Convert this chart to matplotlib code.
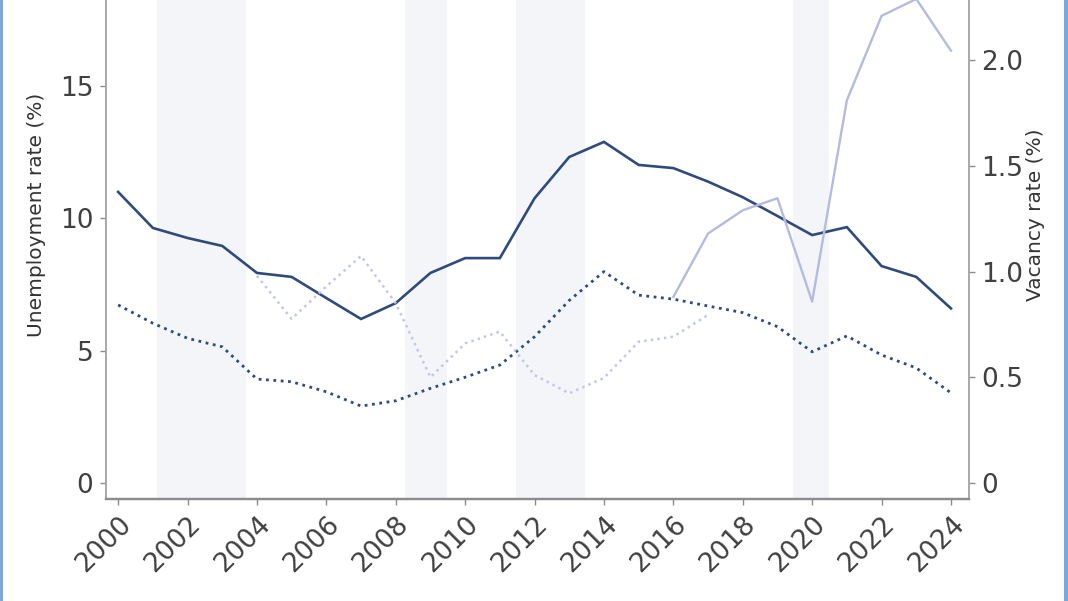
import numpy as np
import matplotlib
matplotlib.use("Agg")
import matplotlib.pyplot as plt
from matplotlib.patches import Rectangle

years = list(range(2000, 2025))

# unemployment rate, main measure (left axis)
unemp = [11.0, 9.64, 9.26, 8.96, 7.94, 7.79, 6.99, 6.2, 6.8, 7.94, 8.5, 8.5, 10.76,
         12.32, 12.89, 12.02, 11.9, 11.39, 10.8, 10.09, 9.37, 9.67, 8.2, 7.79, 6.6]
# unemployment rate, second measure (left axis, dotted)
unemp_alt = [6.73, 6.04, 5.47, 5.15, 3.93, 3.83, 3.45, 2.91, 3.11, 3.58, 4.0, 4.46, 5.53,
             6.9, 7.99, 7.1, 6.95, 6.69, 6.44, 5.91, 4.96, 5.56, 4.84, 4.35, 3.41]

# vacancy rate, old series (right axis, dotted)
vac_old_years = list(range(2004, 2018))
vac_old = [0.98, 0.776, 0.93, 1.074, 0.85, 0.50, 0.66, 0.716, 0.51, 0.424, 0.497,
           0.668, 0.692, 0.795]
# vacancy rate, new series (right axis)
vac_new_years = list(range(2016, 2025))
vac_new = [0.88, 1.18, 1.29, 1.347, 0.858, 1.81, 2.21, 2.29, 2.045]

# shaded periods
bands = [(2001.12, 2003.68), (2008.28, 2009.49), (2011.46, 2013.45), (2019.44, 2020.48)]

dark = "#2f4b7c"
light = "#b5bbe0"
tick_col = "#404040"

plt.rcParams['font.family'] = ['DejaVu Sans']

fig = plt.figure(figsize=(10.68, 6.01), dpi=100)
W, H = 1068, 601
ax = fig.add_axes([106 / W, (H - 499) / H, (969 - 106) / W, 499 / H])
ax2 = ax.twinx()

for a, b in bands:
    ax.axvspan(a, b, color="#f4f5f9", zorder=0, lw=0)

ax.plot(years, unemp, color=dark, lw=1.9, solid_joinstyle='miter')
ax.plot(years, unemp_alt, color=dark, lw=2.0, ls=':')
ax2.plot(vac_new_years, vac_new, color=light, lw=1.7)
ax2.plot(vac_old_years, vac_old, color="#c3c7e6", lw=1.8, ls=':')

ax.set_xlim(1999.65, 2024.52)
ax.set_ylim(-0.6, 18.25)
ax2.set_ylim(-0.076, 2.285)

ax.set_xticks(range(2000, 2025, 2))
ax.set_yticks([0, 5, 10, 15])
ax2.set_yticks([0, 0.5, 1.0, 1.5, 2.0])
ax2.set_yticklabels(["0", "0.5", "1.0", "1.5", "2.0"])
plt.setp(ax.get_xticklabels(), rotation=45, ha='right', rotation_mode='anchor')

for a in (ax, ax2):
    a.spines['top'].set_visible(False)
    for s in ('left', 'right'):
        a.spines[s].set_color("#a8a8a8")
        a.spines[s].set_linewidth(1.2)
    a.spines['bottom'].set_color("#8c8c8c")
    a.spines['bottom'].set_linewidth(1.6)
    a.tick_params(colors="#8c8c8c", labelcolor=tick_col, labelsize=19, length=4, width=1, pad=5)

ax.set_ylabel("Unemployment rate (%)", fontsize=14.5, color="#333333")
ax2.set_ylabel("Vacancy rate (%)", fontsize=14.5, color="#333333")
ax.yaxis.set_label_coords(-0.0695, 0.569)
ax2.yaxis.set_label_coords(1.066, 0.569)

# blue frame edges of the cropped screenshot
fig.add_artist(Rectangle((0, 0), 3 / W, 1, transform=fig.transFigure, color="#7ba7d9", lw=0))
fig.add_artist(Rectangle((1064 / W, 0), 4 / W, 1, transform=fig.transFigure, color="#7ba7d9", lw=0))

fig.savefig("out.png", dpi=100)
